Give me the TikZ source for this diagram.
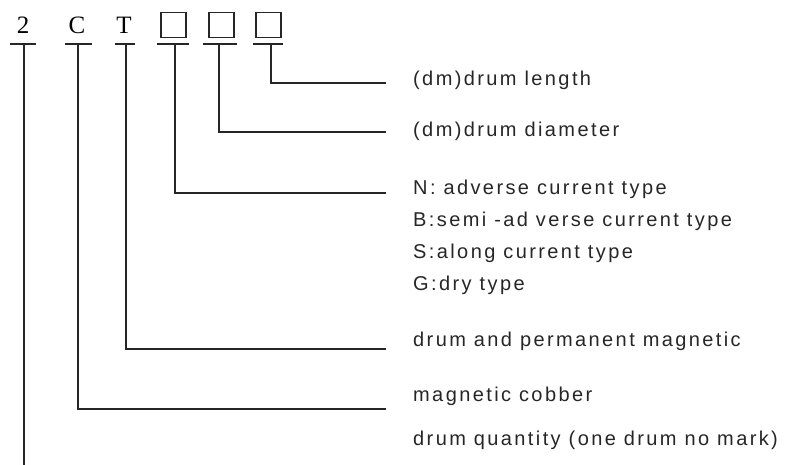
\documentclass[tikz,border=0pt]{standalone}
\usepackage{fontspec}
\usepackage{tikz}
\usetikzlibrary{positioning}
\newfontfamily\labfont[LetterSpace=12]{Liberation Sans}
\newfontfamily\symfont{Liberation Serif}
\begin{document}
\begin{tikzpicture}[x=1pt, y=-1pt,
    wire/.style={line width=1.5pt, draw=black!85},
    sym/.style={font=\symfont\fontsize{25}{25}\selectfont, anchor=base, inner sep=0pt},
    box/.style={draw=black!85, line width=1.3pt, minimum size=25pt, inner sep=0pt},
    lab/.style={font=\labfont\fontsize{20}{32}\selectfont, text=black!85, anchor=base west, inner sep=0pt, align=left}]
  \useasboundingbox (0,0) rectangle (796,465);
  % code letters and boxes
  \node[sym] at (23,34) (s2) {2};
  \node[sym] at (77,34) (sC) {C};
  \node[sym] at (124,34) (sT) {T};
  \node[box] at (173.5,25) (bx1) {};
  \node[box] at (221.5,25) (bx2) {};
  \node[box] at (268.5,25) (bx3) {};
  % bars under them
  \draw[wire] (10,44) -- (36,44);
  \draw[wire] (65,44) -- (92,44);
  \draw[wire] (115,44) -- (135,44);
  \draw[wire] (157,44) -- (189,44);
  \draw[wire] (203,44) -- (237,44);
  \draw[wire] (253,44) -- (283,44);
  \coordinate (b2) at (24,44);
  \coordinate (bC) at (78,44);
  \coordinate (bT) at (126,44);
  \coordinate (b1) at (175,44);
  \coordinate (b2x) at (219,44);
  \coordinate (b3) at (271,44);
  % line ends
  \coordinate (eLen) at (386,83);
  \coordinate (eDia) at (386,132);
  \coordinate (eTyp) at (386,193);
  \coordinate (eMag) at (386,349);
  \coordinate (eCob) at (386,409);
  \coordinate (eQty) at (24,465);
  % labels
  \node[lab] at (413,86) (len) {(dm)drum length};
  \node[lab] at (413,137) (dia) {(dm)drum diameter};
  \node[lab, anchor=north west] at (413,180) (typ) {N: adverse current type\\B:semi -ad verse current type\\S:along current type\\G:dry type};
  \node[lab] at (413,347) (mag) {drum and permanent magnetic};
  \node[lab] at (413,402) (cob) {magnetic cobber};
  \node[lab] at (413,445) (qty) {drum quantity (one drum no mark)};
  % connectors
  \draw[wire] (b3) |- (eLen);
  \draw[wire] (b2x) |- (eDia);
  \draw[wire] (b1) |- (eTyp);
  \draw[wire] (bT) |- (eMag);
  \draw[wire] (bC) |- (eCob);
  \draw[wire] (b2) -- (eQty);
\end{tikzpicture}
\end{document}
